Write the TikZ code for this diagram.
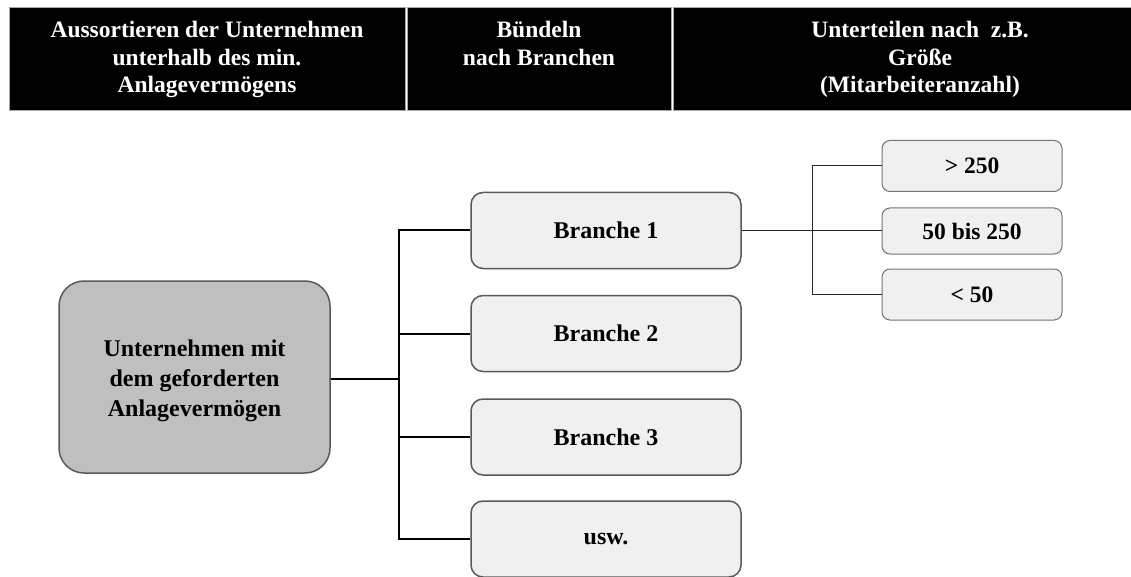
\documentclass[tikz,border=0pt]{standalone}
\usepackage{fontspec}
\setmainfont{Liberation Serif}
\begin{document}
\begin{tikzpicture}[x=1pt,y=-1pt,
  header/.style={fill=black,draw=black!35,line width=0.8pt,minimum height=103pt,inner sep=0pt,anchor=north west},
  headtext/.style={text=white,font=\fontsize{23.5}{27.5}\selectfont\bfseries,align=center,anchor=north,inner sep=0pt},
  root/.style={draw=black!65,fill=black!25,line width=1.5pt,rounded corners=25pt,minimum width=271pt,minimum height=192pt,inner sep=0pt},
  roottext/.style={align=center,inner sep=0pt,font=\fontsize{24}{30}\selectfont\bfseries},
  branch/.style={draw=black!65,fill=black!6,line width=1.5pt,rounded corners=12pt,minimum width=270pt,minimum height=76pt,inner sep=0pt,font=\fontsize{24}{27}\selectfont\bfseries},
  sizebox/.style={draw=black!55,fill=black!6,line width=1pt,rounded corners=8pt,minimum width=180pt,inner sep=0pt,font=\fontsize{23.5}{27}\selectfont\bfseries},
  trunk/.style={line width=2pt,black},
  twig/.style={line width=1pt,black!85}]
\useasboundingbox (0,0) rectangle (1131,577);

% column headers
\node[header,minimum width=396pt] (h1) at (9,7) {};
\node[header,minimum width=264pt] (h2) at (407,7) {};
\node[header,minimum width=458pt] (h3) at (673,7) {};
\node[headtext] (t1) at (207,21) {Aussortieren der Unternehmen\\unterhalb des min.\\Anlagevermögens};
\node[headtext] (t2) at (539,21) {Bündeln\\nach Branchen};
\node[headtext] (t3) at (920,21) {Unterteilen nach~ z.B.\\Größe\\(Mitarbeiteranzahl)};

% root node and its text
\node[root] (root) at (194.5,377) {};
\node[roottext] (roottxt) at (194.5,381) {Unternehmen mit\\dem geforderten\\Anlagevermögen};

% industry branches
\node[branch] (b1) at (606,230.5) {Branche 1};
\node[branch] (b2) at (606,333.5) {Branche 2};
\node[branch] (b3) at (606,437) {Branche 3};
\node[branch] (b4) at (606,539) {usw.};

% size classes
\node[sizebox,minimum height=51pt] (s1) at (972,166) {> 250};
\node[sizebox,minimum height=46pt] (s2) at (972,231) {50 bis 250};
\node[sizebox,minimum height=51pt] (s3) at (972,294.5) {< 50};

% connectors
\coordinate (ja) at (399,379);
\draw[trunk] (root.east |- ja) -- (ja);
\draw[trunk] (b1.west) -| (ja);
\draw[trunk] (b4.west) -| (ja);
\draw[trunk] (b2.west) -- (b2.west -| ja);
\draw[trunk] (b3.west) -- (b3.west -| ja);

\coordinate (jb) at (812,230.5);
\draw[twig] (b1.east) -- (jb);
\draw[twig] (s1.west) -| (jb);
\draw[twig] (s3.west) -| (jb);
\draw[twig] (jb) -- (s2.west |- jb);
\end{tikzpicture}
\end{document}
